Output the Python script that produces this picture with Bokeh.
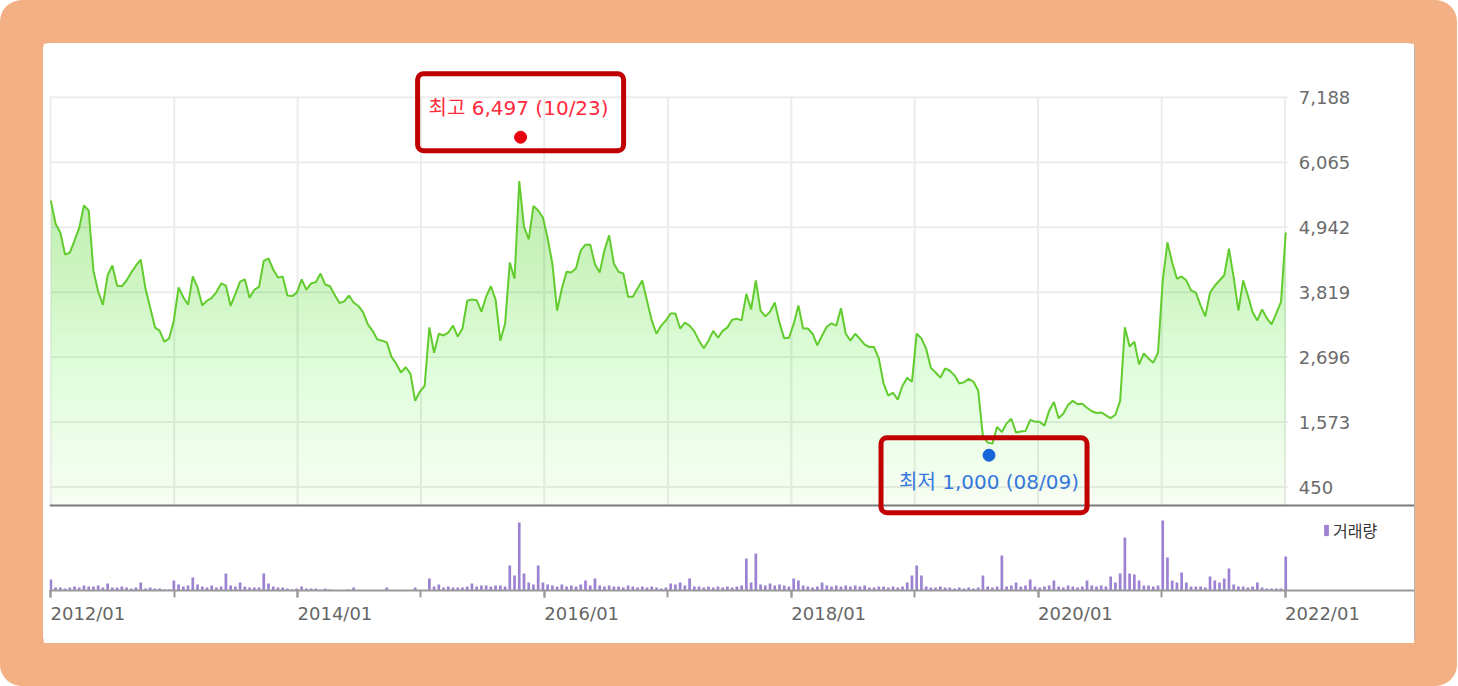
import numpy as np
import pandas as pd
from bokeh.plotting import figure
from bokeh.models import (Range1d, FixedTicker, DatetimeTickFormatter,
                          Label, Span, Legend, LegendItem)
from bokeh.core.properties import value
from bokeh.embed import file_html
from bokeh.resources import INLINE

# ---------------- data ----------------
start_date = "2012-01-02"     # one observation every two weeks
step = "14D"

price = [
    5400, 5000, 4850, 4470, 4500, 4710, 4930, 5320, 5230, 4190,
    3830, 3600, 4110, 4280, 3930, 3920, 4020, 4160, 4280, 4380,
    3880, 3550, 3210, 3150, 2960, 3020, 3330, 3900, 3730, 3600,
    4090, 3900, 3590, 3670, 3720, 3820, 3970, 3930, 3580, 3790,
    4000, 4040, 3720, 3860, 3910, 4360, 4400, 4210, 4070, 4090,
    3760, 3750, 3810, 4040, 3860, 3970, 3990, 4140, 3950, 3920,
    3770, 3630, 3660, 3760, 3640, 3580, 3470, 3260, 3150, 3000,
    2980, 2950, 2700, 2580, 2430, 2520, 2410, 1940, 2100, 2200,
    3210, 2770, 3100, 3070, 3120, 3240, 3050, 3190, 3670, 3690,
    3680, 3480, 3740, 3920, 3690, 2980, 3270, 4330, 4050, 5740,
    4950, 4730, 5310, 5230, 5110, 4750, 4310, 3500, 3880, 4170,
    4160, 4230, 4540, 4640, 4640, 4300, 4160, 4540, 4800, 4310,
    4170, 4140, 3740, 3740, 3880, 4020, 3670, 3330, 3100, 3240,
    3330, 3450, 3450, 3190, 3290, 3240, 3140, 2980, 2850, 2980,
    3150, 3030, 3150, 3210, 3340, 3360, 3330, 3790, 3520, 4020,
    3500, 3400, 3480, 3640, 3290, 3020, 3030, 3270, 3590, 3190,
    3190, 3100, 2900, 3070, 3220, 3280, 3240, 3540, 3100, 2980,
    3100, 3010, 2910, 2870, 2870, 2670, 2240, 2030, 2080, 1960,
    2200, 2340, 2270, 3100, 3020, 2840, 2510, 2430, 2340, 2500,
    2460, 2380, 2240, 2260, 2320, 2270, 2120, 1320, 1220, 1200,
    1490, 1400, 1550, 1630, 1390, 1410, 1420, 1610, 1580, 1580,
    1510, 1770, 1920, 1640, 1720, 1870, 1940, 1880, 1890, 1820,
    1760, 1730, 1740, 1690, 1640, 1700, 1940, 3210, 2880, 2960,
    2570, 2760, 2670, 2600, 2770, 4020, 4680, 4330, 4050, 4090,
    4020, 3850, 3810, 3590, 3400, 3810, 3930, 4020, 4110, 4570,
    4070, 3500, 4020, 3760, 3470, 3330, 3520, 3370, 3260, 3450,
    3650, 4850,
]

volume = [  # thousand shares
    275, 75, 75, 50, 75, 100, 75, 125, 100, 100,
    125, 75, 175, 75, 75, 100, 75, 50, 75, 200,
    50, 75, 50, 50, 25, 25, 250, 150, 100, 125,
    325, 150, 100, 75, 125, 75, 100, 425, 125, 100,
    200, 100, 75, 75, 75, 425, 175, 100, 75, 75,
    50, 25, 50, 100, 50, 50, 50, 25, 50, 25,
    0, 0, 0, 25, 75, 0, 0, 0, 0, 0,
    0, 75, 0, 0, 0, 0, 0, 75, 0, 0,
    300, 100, 150, 75, 100, 75, 75, 75, 100, 175,
    100, 125, 125, 100, 125, 125, 100, 625, 375, 1700,
    425, 200, 150, 625, 200, 150, 125, 100, 150, 100,
    125, 100, 150, 250, 125, 300, 125, 100, 125, 100,
    100, 75, 125, 100, 75, 100, 75, 100, 75, 50,
    75, 175, 150, 200, 125, 300, 100, 100, 75, 100,
    75, 100, 75, 100, 75, 100, 125, 800, 200, 925,
    150, 125, 175, 125, 150, 125, 100, 300, 250, 125,
    100, 75, 100, 200, 125, 100, 125, 100, 125, 100,
    125, 100, 125, 75, 75, 100, 100, 75, 100, 75,
    100, 200, 375, 625, 375, 100, 75, 75, 100, 75,
    75, 50, 75, 50, 75, 50, 75, 375, 100, 75,
    100, 875, 100, 125, 200, 100, 125, 275, 100, 75,
    100, 125, 250, 100, 75, 125, 100, 75, 100, 250,
    125, 100, 125, 100, 350, 200, 425, 1325, 425, 400,
    250, 125, 125, 100, 125, 1750, 825, 250, 200, 450,
    200, 100, 100, 100, 75, 350, 250, 200, 300, 550,
    150, 100, 100, 75, 100, 200, 75, 50, 50, 50,
    50, 850,
]

price_ticks = [450, 1573, 2696, 3819, 4942, 6065, 7188]
price_tick_labels = [f"{v:,}" for v in price_ticks]
year_ticks = [f"{y}-01-01" for y in range(2012, 2023)]
year_labels = [f"{y}-01-01" for y in range(2012, 2023, 2)]

high_name, high_value, high_date = "최고", 6497, "2015-10-23"
low_name, low_value, low_date = "최저", 1000, "2019-08-09"
volume_name = "거래량"

# ---------------- layout / style ----------------
X_START, X_PLOT_END, X_END = "2011-12-29", "2022-01-09", "2023-01-19"
Y_START, Y_END = -1339, 7996
PRICE_FLOOR = 130
VOL_END = 13500

LINE_GREEN = "#62cc2e"
FILL_RGB = (120, 215, 50)
A_BOT, A_TOP = 0.06, 0.48
VOL_COLOR = "#9d82d2"
GRID = "#ececec"
LATIN = "DejaVu Sans, Noto Sans CJK KR"


def ms(s):
    return pd.Timestamp(s).value / 1e6


dates = pd.date_range(start_date, periods=len(price), freq=step)
x_ms = dates.values.astype("datetime64[ms]").astype(np.int64).astype(float)
y = np.asarray(price, dtype=float)

p = figure(width=1371, height=600, x_axis_type="datetime", y_axis_location=None,
           x_range=Range1d(ms(X_START), ms(X_END)), y_range=Range1d(Y_START, Y_END),
           output_backend="svg", toolbar_location=None, title=None,
           min_border_left=6, min_border_right=0, min_border_top=7, min_border_bottom=53,
           background_fill_color="white", border_fill_color="white", outline_line_color=None)
# orange rounded frame around the white panel (drawn outside the plot's own box),
# plus the thin grey right edge of the panel
p.styles = {"margin": "43px",
            "box-shadow": "1px 0 0 0 #b4b4b4, 0 0 0 43px #F2B084",
            "border-radius": "6px"}
p.extra_y_ranges = {"vol": Range1d(0, VOL_END)}

p.xgrid.visible = False
p.ygrid.visible = False

# grid of the price panel
x0, x1 = ms(X_START), ms(X_PLOT_END)
p.segment(x0=[x0] * len(price_ticks), y0=price_ticks, x1=[x1] * len(price_ticks), y1=price_ticks,
          line_color=GRID, line_width=2)
yr_ms = [ms(d) for d in year_ticks]
p.segment(x0=yr_ms, y0=[PRICE_FLOOR] * len(yr_ms), x1=yr_ms, y1=[price_ticks[-1]] * len(yr_ms),
          line_color=GRID, line_width=2)

# price scale labels on the right of the price panel
p.text(x=[x1] * len(price_ticks), y=price_ticks, text=price_tick_labels, x_offset=11,
       text_align="left", text_baseline="middle", text_font=value(LATIN),
       text_font_size="18px", text_color="#6b6b6b")

# bottom axis (labels start at their tick, as in the reference)
xax = p.xaxis[0]
xax.ticker = FixedTicker(ticks=[ms(d) for d in year_labels], minor_ticks=yr_ms)
fmt = "%Y/%m"
xax.formatter = DatetimeTickFormatter(years=fmt, months=fmt, days=fmt, hours=fmt, hourmin=fmt,
                                      minutes=fmt, minsec=fmt, seconds=fmt,
                                      milliseconds=fmt, microseconds=fmt)
xax.major_label_orientation = -1e-6
xax.axis_line_color = "#999999"
xax.axis_line_width = 2
xax.major_tick_line_color = "#999999"
xax.minor_tick_line_color = "#999999"
xax.major_tick_line_width = 2
xax.minor_tick_line_width = 2
xax.major_tick_out = 7
xax.major_tick_in = 0
xax.minor_tick_out = 7
xax.minor_tick_in = 0
xax.major_label_standoff = 16
xax.major_label_text_font = LATIN
xax.major_label_text_font_size = "18px"
xax.major_label_text_color = "#666666"

# gradient fill under the price line (stacked translucent layers)
N = 30
levels = PRICE_FLOOR + (max(price) - PRICE_FLOOR) * np.arange(N) / N


def refine(xs, ys, lv):
    rx, ry = [xs[0]], [ys[0]]
    for i in range(len(xs) - 1):
        xa, ya, xb, yb = xs[i], ys[i], xs[i + 1], ys[i + 1]
        if yb != ya:
            cross = lv[(lv > min(ya, yb)) & (lv < max(ya, yb))]
            t = np.sort((cross - ya) / (yb - ya))
            rx.extend(xa + t * (xb - xa))
            ry.extend(ya + t * (yb - ya))
        rx.append(xb)
        ry.append(yb)
    return np.array(rx), np.array(ry)


rx, ry = refine(x_ms, y, levels)
target = A_BOT + (A_TOP - A_BOT) * (levels - PRICE_FLOOR) / (price_ticks[-1] - PRICE_FLOOR)
prev = 0.0
for j, lv in enumerate(levels):
    b = 1 - (1 - target[j]) / (1 - prev)
    prev = target[j]
    p.varea(x=rx, y1=np.full_like(ry, lv), y2=np.maximum(ry, lv),
            fill_color=FILL_RGB, fill_alpha=float(b))

p.line(x_ms, price, line_color=LINE_GREEN, line_width=2)

# volume
vol_r = p.vbar(x=x_ms, top=volume, bottom=0, width=8 * 86400000, y_range_name="vol",
               fill_color=VOL_COLOR, line_color=None)

# separator between the price and volume panels
p.add_layout(Span(location=PRICE_FLOOR, dimension="width", line_color="#7a7a7a", line_width=2))

# high / low markers
hi_ms, lo_ms = ms(high_date), ms(low_date)
p.scatter([hi_ms], [high_value], size=12, color="#e8000e")
p.scatter([lo_ms], [low_value], size=12, color="#1565d8")

hi_text = f"{high_name} {high_value:,} ({pd.Timestamp(high_date):%m/%d})"
lo_text = f"{low_name} {low_value:,} ({pd.Timestamp(low_date):%m/%d})"

p.add_layout(Label(x=hi_ms, y=high_value, y_offset=25, text=hi_text,
                   text_align="center", text_baseline="middle",
                   text_font=LATIN, text_font_size="20px", text_color="#ff2a3c",
                   border_line_color="#c00000", border_line_width=5,
                   padding=dict(left=11, right=15, top=22, bottom=31), border_radius=6))
p.add_layout(Label(x=lo_ms, y=low_value, x_offset=-5, y_offset=-20, text=lo_text,
                   text_align="center", text_baseline="middle",
                   text_font=LATIN, text_font_size="20px", text_color="#3578dc",
                   border_line_color="#c00000", border_line_width=5,
                   padding=dict(left=18, right=8, top=32, bottom=19), border_radius=6))

legend = Legend(items=[LegendItem(label=volume_name, renderers=[vol_r])],
                location=(1274, 48), glyph_width=6, glyph_height=14, label_standoff=4,
                padding=0, margin=0, spacing=0, border_line_color=None,
                background_fill_alpha=0, label_text_font="Noto Sans CJK KR",
                label_text_font_size="16px", label_text_color="#333333")
p.add_layout(legend)

with open("out.html", "w", encoding="utf-8") as f:
    f.write(file_html(p, INLINE))
